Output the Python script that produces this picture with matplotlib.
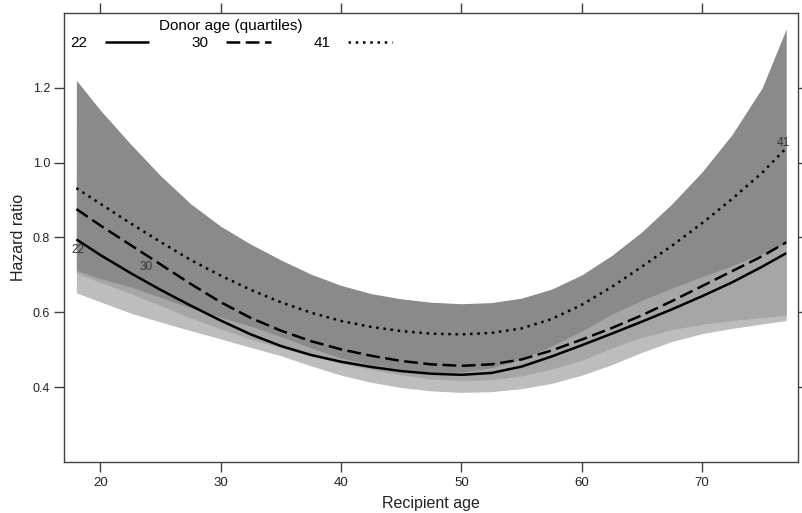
import numpy as np
import matplotlib.pyplot as plt

plt.rcParams['font.family'] = ['Liberation Sans', 'DejaVu Sans']

# recipient age grid
age = [18, 20, 22.5, 25, 27.5, 30, 32.5, 35, 37.5, 40, 42.5, 45, 47.5,
       50, 52.5, 55, 57.5, 60, 62.5, 65, 67.5, 70, 72.5, 75, 77]

# hazard ratio estimates per donor age quartile
hr_22 = [0.795, 0.753, 0.705, 0.660, 0.618, 0.578, 0.541, 0.510, 0.486, 0.468, 0.454, 0.443, 0.436,
         0.433, 0.438, 0.455, 0.482, 0.512, 0.543, 0.575, 0.608, 0.643, 0.680, 0.722, 0.758]
hr_30 = [0.876, 0.832, 0.780, 0.728, 0.676, 0.627, 0.585, 0.551, 0.523, 0.501, 0.484, 0.470, 0.461,
         0.457, 0.461, 0.474, 0.498, 0.527, 0.558, 0.592, 0.630, 0.670, 0.710, 0.750, 0.787]
hr_41 = [0.932, 0.890, 0.838, 0.788, 0.740, 0.698, 0.660, 0.627, 0.599, 0.577, 0.561, 0.550, 0.543,
         0.541, 0.545, 0.557, 0.582, 0.620, 0.668, 0.722, 0.778, 0.838, 0.903, 0.973, 1.039]

# confidence limits
lo_22 = [0.652, 0.628, 0.598, 0.574, 0.551, 0.529, 0.506, 0.484, 0.457, 0.432, 0.413, 0.399, 0.390,
         0.386, 0.388, 0.396, 0.410, 0.432, 0.460, 0.493, 0.522, 0.543, 0.557, 0.569, 0.578]
up_22 = [0.970, 0.900, 0.830, 0.760, 0.700, 0.650, 0.600, 0.560, 0.535, 0.515, 0.500, 0.490, 0.485,
         0.485, 0.490, 0.510, 0.570, 0.610, 0.645, 0.670, 0.710, 0.760, 0.830, 0.900, 0.995]
lo_30 = [0.705, 0.680, 0.650, 0.618, 0.585, 0.556, 0.528, 0.505, 0.484, 0.463, 0.447, 0.433, 0.422,
         0.418, 0.420, 0.430, 0.448, 0.472, 0.505, 0.533, 0.554, 0.568, 0.578, 0.586, 0.592]
up_30 = [1.090, 1.020, 0.940, 0.870, 0.800, 0.740, 0.680, 0.620, 0.580, 0.550, 0.530, 0.515, 0.510,
         0.510, 0.515, 0.530, 0.590, 0.630, 0.665, 0.705, 0.755, 0.810, 0.880, 0.960, 1.050]
lo_41 = [0.712, 0.690, 0.668, 0.640, 0.612, 0.587, 0.563, 0.535, 0.505, 0.478, 0.460, 0.448, 0.440,
         0.440, 0.452, 0.475, 0.510, 0.550, 0.595, 0.632, 0.665, 0.695, 0.725, 0.757, 0.785]
up_41 = [1.220, 1.140, 1.050, 0.965, 0.890, 0.830, 0.782, 0.740, 0.702, 0.672, 0.650, 0.636, 0.627,
         0.623, 0.626, 0.638, 0.662, 0.700, 0.752, 0.815, 0.890, 0.975, 1.075, 1.200, 1.357]

quartiles = ['22', '30', '41']
x_ticks = [20, 30, 40, 50, 60, 70]
y_ticks = [0.4, 0.6, 0.8, 1.0, 1.2]

fig = plt.figure(figsize=(8.02, 5.13), dpi=100)
ax = fig.add_axes([0.0798, 0.0994, 0.9152, 0.8753])

# bands drawn opaque, the 41 band on top
ax.fill_between(age, lo_22, up_22, color='#bdbdbd', lw=0)
ax.fill_between(age, lo_30, up_30, color='#a6a6a6', lw=0)
ax.fill_between(age, lo_41, up_41, color='#8a8a8a', lw=0)

lw = 1.8
l1, = ax.plot(age, hr_22, color='black', lw=lw, solid_capstyle='butt', solid_joinstyle='round')
l2, = ax.plot(age, hr_30, color='black', lw=lw, dashes=(5.5, 2.2), dash_capstyle='butt')
l3, = ax.plot(age, hr_41, color='black', lw=lw, dashes=(1.0, 1.9), dash_capstyle='butt')

lab_kw = dict(fontsize=8.5, color='#333333', ha='center', va='center')
ax.text(18.1, 0.766, quartiles[0], **lab_kw)
ax.text(23.8, 0.720, quartiles[1], **lab_kw)
ax.text(76.8, 1.052, quartiles[2], **lab_kw)

ax.set_xlim(16.97, 77.98)
ax.set_ylim(0.2, 1.4)
ax.set_xticks(x_ticks)
ax.set_yticks(y_ticks)
ax.set_yticklabels(['%.1f' % v for v in y_ticks])
ax.tick_params(direction='out', length=7, width=1, color='#404040', labelcolor='#222222',
               top=True, right=True, labeltop=False, labelright=False)
ax.tick_params(axis='x', labelsize=9.5, pad=4)
ax.tick_params(axis='y', labelsize=9, pad=3)
for s in ax.spines.values():
    s.set_color('#404040')
    s.set_linewidth(1)

ax.set_xlabel('Recipient age', fontsize=11.5, color='#222222', labelpad=5)
ax.set_ylabel('Hazard ratio', fontsize=11.5, color='#222222', labelpad=5)

leg = ax.legend([l1, l2, l3], quartiles, ncol=3, markerfirst=False, frameon=False,
                title='Donor age (quartiles)', title_fontsize=11, fontsize=11,
                loc='upper left', bbox_to_anchor=(0.0, 1.0), borderaxespad=0.2,
                borderpad=0.2, handlelength=2.9, handletextpad=1.15, columnspacing=2.8,
                labelspacing=0.2)
leg._legend_box.sep = 2

fig.savefig('out.png', dpi=100)
